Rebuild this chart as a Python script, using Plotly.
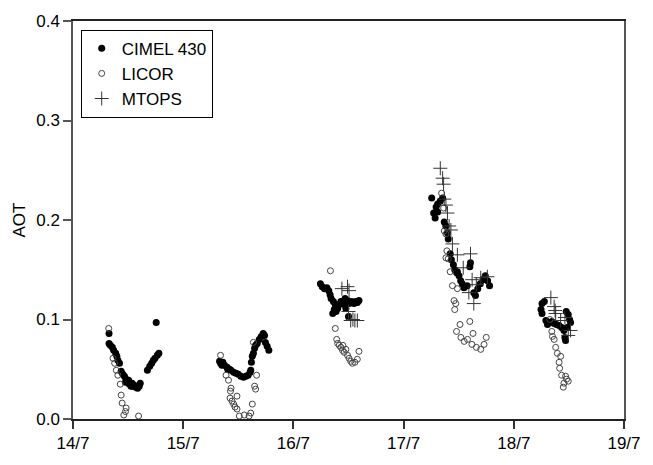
import plotly.graph_objects as go

# Day of July (fractional) and aerosol optical thickness
cimel_day = [
    14.327, 14.327, 14.339, 14.357, 14.369, 14.387, 14.398, 14.407, 14.422, 14.437,
    14.452, 14.467, 14.482, 14.496, 14.512, 14.527, 14.541, 14.556, 14.571, 14.586,
    14.601, 14.610, 14.476, 14.505, 14.536, 14.675, 14.696, 14.714, 14.729, 14.744,
    14.765, 14.779, 14.755,
    15.330, 15.339, 15.351, 15.360, 15.375, 15.398, 15.404, 15.420, 15.434, 15.458,
    15.479, 15.500, 15.523, 15.547, 15.568, 15.589, 15.607, 15.613, 15.619, 15.627,
    15.637, 15.648, 15.657, 15.672, 15.690, 15.708, 15.726, 15.738, 15.746, 15.762,
    15.777,
    16.245, 16.262, 16.282, 16.304, 16.321, 16.333, 16.342, 16.363, 16.380, 16.371,
    16.387, 16.402, 16.416, 16.431, 16.446, 16.469, 16.491, 16.505, 16.529, 16.550,
    16.565, 16.580, 16.595, 16.461, 16.476, 16.500, 16.357,
    17.255, 17.295, 17.309, 17.333, 17.354, 17.273, 17.286, 17.309, 17.369, 17.384,
    17.398, 17.405, 17.423, 17.434, 17.452, 17.464, 17.482, 17.503, 17.518, 17.532,
    17.548, 17.577, 17.601, 17.607, 17.637, 17.652, 17.673, 17.696, 17.720, 17.741,
    17.762, 17.780, 17.488,
    18.256, 18.247, 18.256, 18.277, 18.291, 18.321, 18.345, 18.366, 18.387, 18.411,
    18.434, 18.455, 18.464, 18.470, 18.476, 18.494, 18.506, 18.515, 18.485, 18.306,
]
cimel_aot = [
    0.086, 0.076, 0.074, 0.072, 0.069, 0.066, 0.063, 0.059, 0.056, 0.048,
    0.045, 0.043, 0.040, 0.037, 0.035, 0.033, 0.033, 0.034, 0.032, 0.031,
    0.033, 0.036, 0.037, 0.039, 0.036, 0.049, 0.053, 0.056, 0.059, 0.061,
    0.064, 0.066, 0.097,
    0.058, 0.056, 0.054, 0.057, 0.054, 0.052, 0.050, 0.050, 0.049, 0.047,
    0.046, 0.045, 0.043, 0.042, 0.043, 0.044, 0.047, 0.049, 0.057, 0.063,
    0.066, 0.071, 0.074, 0.076, 0.080, 0.083, 0.086, 0.084, 0.077, 0.073,
    0.069,
    0.136, 0.133, 0.131, 0.132, 0.129, 0.125, 0.121, 0.118, 0.115, 0.110,
    0.108, 0.111, 0.115, 0.118, 0.118, 0.121, 0.119, 0.116, 0.118, 0.116,
    0.118, 0.117, 0.119, 0.115, 0.111, 0.103, 0.106,
    0.222, 0.213, 0.216, 0.219, 0.222, 0.207, 0.202, 0.208, 0.198, 0.194,
    0.187, 0.181, 0.166, 0.160, 0.155, 0.150, 0.147, 0.144, 0.139, 0.136,
    0.132, 0.134, 0.153, 0.157, 0.127, 0.124, 0.131, 0.136, 0.140, 0.144,
    0.139, 0.134, 0.148,
    0.116, 0.110, 0.106, 0.118, 0.099, 0.097, 0.098, 0.096, 0.095, 0.094,
    0.092, 0.089, 0.082, 0.079, 0.108, 0.105, 0.100, 0.097, 0.092, 0.095,
]

licor_day = [
    14.324, 14.363, 14.378, 14.393, 14.407, 14.429, 14.437, 14.446, 14.482, 14.476,
    14.461, 14.595,
    15.339, 15.389, 15.411, 15.434, 15.429, 15.425, 15.443, 15.458, 15.470, 15.488,
    15.488, 15.509, 15.554, 15.598, 15.613, 15.627, 15.648, 15.657, 15.666, 15.637,
    16.336, 16.380, 16.393, 16.402, 16.416, 16.431, 16.446, 16.461, 16.476, 16.491,
    16.505, 16.520, 16.535, 16.558, 16.580, 16.595, 16.449,
    17.345, 17.363, 17.369, 17.384, 17.393, 17.384, 17.405, 17.423, 17.443, 17.488,
    17.458, 17.473, 17.464, 17.512, 17.601, 17.480, 17.520, 17.550, 17.580, 17.620,
    17.660, 17.700, 17.730, 17.750, 17.630,
    18.351, 18.366, 18.380, 18.395, 18.425, 18.411, 18.416, 18.434, 18.470, 18.479,
    18.494, 18.455, 18.449, 18.345, 18.327,
]
licor_aot = [
    0.091, 0.061, 0.056, 0.049, 0.044, 0.035, 0.024, 0.016, 0.011, 0.0075,
    0.004, 0.003,
    0.064, 0.044, 0.039, 0.031, 0.028, 0.021, 0.018, 0.015, 0.012, 0.010,
    0.023, 0.003, 0.004, 0.003, 0.006, 0.015, 0.033, 0.030, 0.044, 0.077,
    0.149, 0.091, 0.080, 0.076, 0.074, 0.072, 0.069, 0.067, 0.070, 0.064,
    0.061, 0.058, 0.056, 0.057, 0.060, 0.068, 0.074,
    0.227, 0.212, 0.189, 0.186, 0.169, 0.162, 0.161, 0.148, 0.134, 0.131,
    0.119, 0.116, 0.110, 0.095, 0.098, 0.088, 0.082, 0.078, 0.080, 0.075,
    0.072, 0.070, 0.075, 0.082, 0.086,
    0.083, 0.080, 0.072, 0.066, 0.063, 0.057, 0.051, 0.044, 0.043, 0.040,
    0.038, 0.036, 0.032, 0.088, 0.100,
]

mtops_day = [
    16.440, 16.491, 16.505, 16.520, 16.540, 16.558, 16.580, 16.500,
    17.333, 17.354, 17.363, 17.369, 17.384, 17.398, 17.413, 17.429, 17.443, 17.488,
    17.607, 17.541, 17.622, 17.592, 17.637, 17.700, 17.760, 17.660,
    18.336, 18.366, 18.375, 18.380, 18.464, 18.494, 18.515, 18.425,
]
mtops_aot = [
    0.131, 0.133, 0.129, 0.099, 0.100, 0.099, 0.099, 0.108,
    0.252, 0.242, 0.236, 0.221, 0.215, 0.207, 0.194, 0.190, 0.176, 0.165,
    0.166, 0.152, 0.140, 0.127, 0.116, 0.142, 0.143, 0.135,
    0.122, 0.113, 0.109, 0.106, 0.102, 0.084, 0.089, 0.099,
]

tick_days = [14, 15, 16, 17, 18, 19]
tick_labels = ["14/7", "15/7", "16/7", "17/7", "18/7", "19/7"]
y_ticks = [0.0, 0.1, 0.2, 0.3, 0.4]

fig = go.Figure()
fig.add_trace(go.Scatter(
    x=cimel_day, y=cimel_aot, mode="markers", name="CIMEL 430",
    marker=dict(symbol="circle", size=7, color="black", line=dict(width=0)),
))
fig.add_trace(go.Scatter(
    x=licor_day, y=licor_aot, mode="markers", name="LICOR",
    marker=dict(symbol="circle-open", size=6, color="#444444", line=dict(width=1)),
))
fig.add_trace(go.Scatter(
    x=mtops_day, y=mtops_aot, mode="markers", name="MTOPS",
    marker=dict(symbol="cross-thin", size=10, color="#333333", line=dict(width=1, color="#333333")),
))

font = "Liberation Sans, Arial, sans-serif"
fig.update_layout(
    width=653, height=465,
    margin=dict(l=73, r=20, t=19, b=33),
    paper_bgcolor="white", plot_bgcolor="white",
    font=dict(family=font, size=16, color="black"),
    showlegend=True,
    legend=dict(
        x=0.014, y=0.978, xanchor="left", yanchor="top",
        bordercolor="black", borderwidth=1, bgcolor="white",
        font=dict(family=font, size=17), tracegroupgap=0, itemwidth=30,
    ),
)
fig.update_xaxes(
    range=[14, 19], tickvals=tick_days, ticktext=tick_labels,
    showgrid=False, zeroline=False, showline=True, linecolor="#222222", linewidth=1.5,
    mirror=True, ticks="outside", ticklen=8, tickcolor="#333333", tickwidth=1.5,
    tickfont=dict(size=17),
)
fig.update_yaxes(
    range=[0, 0.4], tickvals=y_ticks, tickformat=".1f",
    showgrid=False, zeroline=False, showline=True, linecolor="#555555", linewidth=1.5,
    mirror=True, ticks="outside", ticklen=8, tickcolor="#555555", tickwidth=1.5,
    tickfont=dict(size=17), title=dict(text="AOT", font=dict(size=17), standoff=6),
)

fig.write_html("out.html")
